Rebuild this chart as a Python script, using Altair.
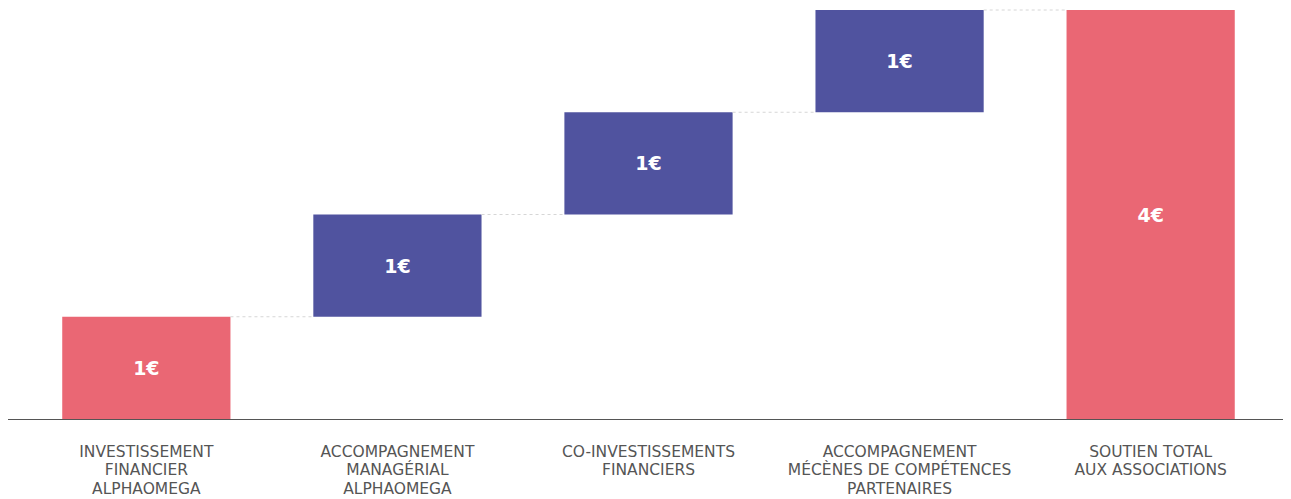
import altair as alt
import pandas as pd

categories = [
    "INVESTISSEMENT|FINANCIER|ALPHAOMEGA",
    "ACCOMPAGNEMENT|MANAGÉRIAL|ALPHAOMEGA",
    "CO-INVESTISSEMENTS|FINANCIERS",
    "ACCOMPAGNEMENT|MÉCÈNES DE COMPÉTENCES|PARTENAIRES",
    "SOUTIEN TOTAL|AUX ASSOCIATIONS",
]
starts = [0, 1, 2, 3, 0]
ends = [1, 2, 3, 4, 4]
labels = ["1€", "1€", "1€", "1€", "4€"]
kinds = ["total", "step", "step", "step", "total"]

bars = pd.DataFrame({"cat": categories, "start": starts, "end": ends,
                     "label": labels, "kind": kinds})
conn = pd.DataFrame({"cat": categories[:-1], "dst": categories[1:], "level": ends[:-1]})

xscale = alt.Scale(domain=categories, paddingInner=0.33, paddingOuter=0.22)
yscale = alt.Scale(domain=[0, 4], nice=False, zero=True)
xaxis = alt.Axis(title=None, labelAngle=0, ticks=False, domainColor="#555555",
                 domainWidth=1.2, labelColor="#555555", labelFontSize=15.5,
                 labelFont="DejaVu Sans", labelPadding=25, labelLineHeight=18.5,
                 labelBaseline="top", labelLimit=0,
                 labelExpr="split(datum.label, '|')")

base = alt.Chart(bars)

bar_layer = base.mark_bar().encode(
    x=alt.X("cat:N", scale=xscale, axis=xaxis),
    y=alt.Y("start:Q", scale=yscale, axis=None),
    y2="end:Q",
    color=alt.Color("kind:N", scale=alt.Scale(domain=["total", "step"],
                                              range=["#EA6774", "#50539F"]), legend=None),
)

text_layer = base.transform_calculate(mid="(datum.start + datum.end) / 2").mark_text(
    color="white", fontSize=19, fontWeight="bold", font="DejaVu Sans", dy=1
).encode(
    x=alt.X("cat:N"),
    y=alt.Y("mid:Q", axis=None),
    text="label:N",
)

rule_layer = alt.Chart(conn).mark_rule(color="#d6d6d6", strokeDash=[3, 3], strokeWidth=1).encode(
    x=alt.X("cat:N", bandPosition=1),
    x2=alt.X2("dst:N", bandPosition=0),
    y=alt.Y("level:Q", axis=None),
)

chart = alt.layer(bar_layer, rule_layer, text_layer).properties(
    width=1283, height=409,
    autosize=alt.AutoSizeParams(type="none"),
    padding={"left": -1, "top": 2, "right": -7, "bottom": 80},
    background="white",
).configure_view(stroke=None).configure_axis(grid=False)

chart.save("out.html", embed_options={"renderer": "svg", "actions": False})
